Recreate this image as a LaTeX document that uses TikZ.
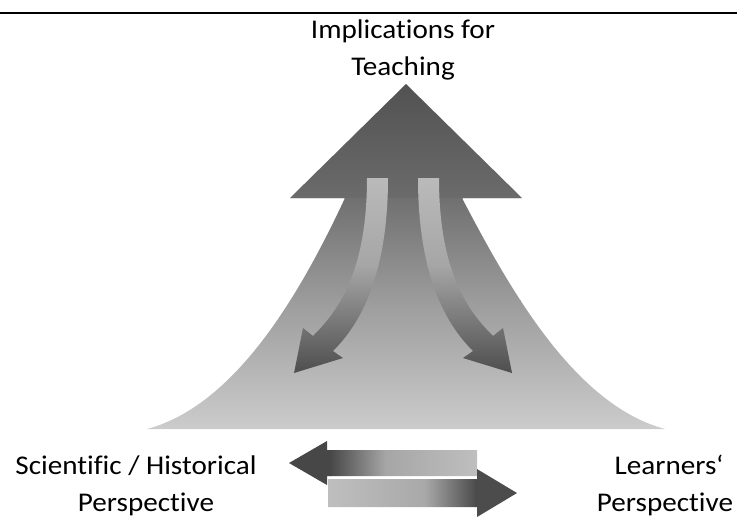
\documentclass[tikz,border=0pt]{standalone}
\usepackage{fontspec}
\setmainfont{Carlito}[FakeStretch=1.08, Ligatures={CommonOff,ContextualOff}]
\begin{document}
\begin{tikzpicture}[x=1pt,y=-1pt,
  lbl/.style={font=\fontsize{27}{35}\selectfont, anchor=base, inner sep=0pt, text=black}]
\useasboundingbox (0,0) rectangle (737,517);
% top rule
\coordinate (ruleL) at (0,13);
\coordinate (ruleR) at (737,13);
\draw[line width=1.3pt] (ruleL) -- (ruleR);

% big arrow shape
\def\bigpath{(406,84) -- (522,198) -- (462,198) .. controls (510,290) and (575,405) .. (665,429) -- (147,429) .. controls (237,405) and (302,290) .. (345,198) -- (290,198) -- cycle}
\begin{scope}
  \clip \bigpath;
  \shade[top color=black!68, bottom color=black!58] (140,83) rectangle (680,198.5);
  \shade[top color=black!56, bottom color=black!39] (140,198) rectangle (680,300.5);
  \shade[top color=black!39, bottom color=black!20] (140,300) rectangle (680,430);
\end{scope}

% curved arrows
\def\leftcurve{(367,178) .. controls (367,275) and (336,313) .. (313,336) -- (303,328) -- (294,373) -- (343,358) -- (333,351) .. controls (356,328) and (388,282) .. (388,178) -- cycle}
\def\rightcurve{(439,178) .. controls (439,275) and (470,313) .. (493,336) -- (503,328) -- (512,373) -- (463,358) -- (473,351) .. controls (450,328) and (418,282) .. (418,178) -- cycle}
\begin{scope}
  \clip \leftcurve \rightcurve;
  \shade[top color=black!27, bottom color=black!35] (280,177) rectangle (530,265.5);
  \shade[top color=black!35, bottom color=black!70] (280,265) rectangle (530,375);
\end{scope}

% horizontal arrows
\def\upperarrow{(289,463) -- (327,441) -- (327,450) -- (477,450) -- (477,476) -- (327,476) -- (327,485) -- cycle}
\def\lowerarrow{(328,479) -- (477,479) -- (477,469) -- (517,493) -- (477,517) -- (477,507) -- (328,507) -- cycle}
\begin{scope}
  \clip \upperarrow;
  \fill[black!72] (285,438) rectangle (330.5,488);
  \shade[left color=black!72, right color=black!35] (330,438) rectangle (385.5,488);
  \shade[left color=black!35, right color=black!25] (385,438) rectangle (480,488);
\end{scope}
\begin{scope}
  \clip \lowerarrow;
  \shade[left color=black!25, right color=black!34] (325,465) rectangle (425.5,520);
  \shade[left color=black!34, right color=black!70] (425,465) rectangle (475.5,520);
  \fill[black!70] (475,465) rectangle (520,520);
\end{scope}

% labels
\node[lbl] (top1) at (403,38) {Implications for};
\node[lbl] (top2) at (403,75) {Teaching};
\node[lbl] (sci1) at (136,474) {Scientific / Historical};
\node[lbl] (sci2) at (146,511) {Perspective};
\node[lbl] (lrn1) at (669,474) {Learners‘};
\node[lbl] (lrn2) at (665,511) {Perspective};
\end{tikzpicture}
\end{document}
